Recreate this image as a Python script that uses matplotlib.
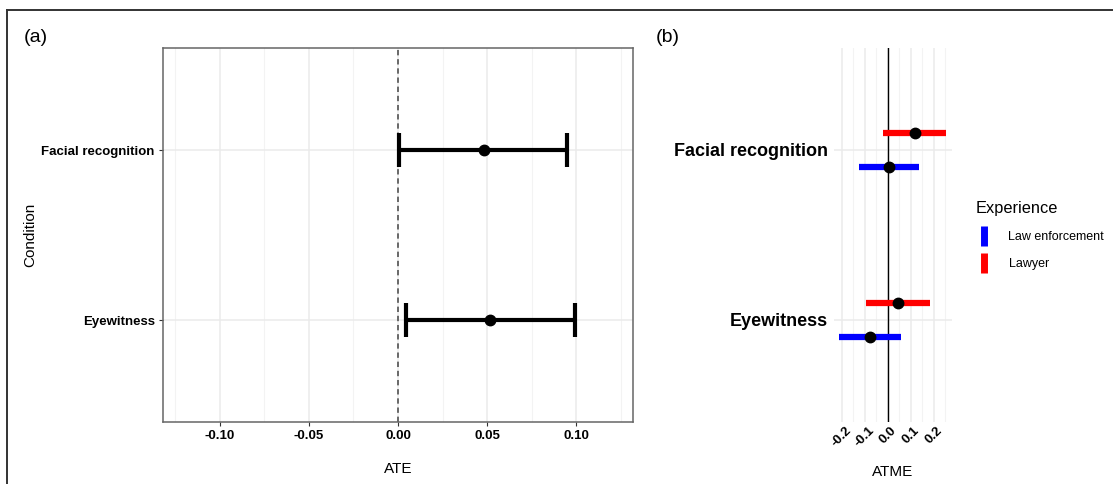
import matplotlib
matplotlib.use("Agg")
import matplotlib.pyplot as plt
from matplotlib.lines import Line2D

plt.rcParams["font.family"] = ["Liberation Sans", "DejaVu Sans"]

# (a) average treatment effect by condition
conditions = ["Eyewitness", "Facial recognition"]
ate = [0.0517, 0.0484]
ate_low = [0.0045, 0.0007]
ate_high = [0.0994, 0.0952]

# (b) average treatment effect by experience group
groups = ["Law enforcement", "Lawyer"]
group_colors = ["#0000FF", "#FF0000"]
atme = {
    "Law enforcement": [-0.077, 0.006],
    "Lawyer": [0.046, 0.119],
}
atme_low = {
    "Law enforcement": [-0.212, -0.123],
    "Lawyer": [-0.094, -0.019],
}
atme_high = {
    "Law enforcement": [0.058, 0.136],
    "Lawyer": [0.185, 0.253],
}
dodge = {"Law enforcement": -0.1, "Lawyer": 0.1}

W, H = 1113, 484
fig = plt.figure(figsize=(W / 100, H / 100), dpi=100)


def px_axes(x0, x1, y0, y1):
    return fig.add_axes([x0 / W, 1 - y1 / H, (x1 - x0) / W, (y1 - y0) / H])


grid_col = "#EBEBEB"

# ---- panel (a)
ax = px_axes(163, 633, 48, 422)
ypos = list(range(1, len(conditions) + 1))
xerr = [[m - lo for m, lo in zip(ate, ate_low)],
        [hi - m for m, hi in zip(ate, ate_high)]]
ax.errorbar(ate, ypos, xerr=xerr, fmt="o", color="black", ms=7.5,
            elinewidth=3, capsize=12.2, capthick=3, zorder=3)
ax.axvline(0, color="#444444", lw=1.1, ls=(0, (3.5, 2.5)), zorder=2)
ax.set_xlim(-0.132, 0.132)
ax.set_ylim(0.4, 2.6)
ax.set_xticks([-0.10, -0.05, 0.00, 0.05, 0.10])
ax.set_xticklabels(["-0.10", "-0.05", "0.00", "0.05", "0.10"])
ax.set_xticks([-0.125, -0.075, -0.025, 0.025, 0.075, 0.125], minor=True)
ax.set_yticks(ypos)
ax.set_yticklabels(conditions)
ax.grid(True, which="major", color=grid_col, lw=1.1, zorder=0)
ax.grid(True, which="minor", axis="x", color="#F3F3F3", lw=0.8, zorder=0)
ax.set_axisbelow(True)
for s in ax.spines.values():
    s.set_color("#666666")
    s.set_linewidth(1.1)
ax.tick_params(axis="both", which="major", length=3, width=0.8,
               color="#333333", labelsize=9.5, pad=3)
ax.tick_params(which="minor", length=0)
for lab in ax.get_xticklabels() + ax.get_yticklabels():
    lab.set_fontweight("bold")
ax.set_xlabel("ATE", fontsize=11, labelpad=14)
ax.set_ylabel("Condition", fontsize=11, va="center")
ax.yaxis.set_label_coords((30 - 163) / 470, 0.5)

# ---- panel (b)
bx = px_axes(833.6, 951.5, 48, 422)
for g, c in zip(groups, group_colors):
    yy = [p + dodge[g] for p in ypos]
    bx.hlines(yy, atme_low[g], atme_high[g], color=c, lw=4.5, zorder=3)
    bx.plot(atme[g], yy, "o", color="black", ms=7.5, zorder=4)
bx.axvline(0, color="black", lw=1.0, zorder=2)
bx.set_xlim(-0.235, 0.277)
bx.set_ylim(0.4, 2.6)
bx.set_xticks([-0.2, -0.1, 0.0, 0.1, 0.2])
bx.set_xticklabels(["-0.2", "-0.1", "0.0", "0.1", "0.2"], rotation=45,
                   ha="center", va="top")
bx.set_xticks([-0.15, -0.05, 0.05, 0.15, 0.25], minor=True)
bx.set_yticks(ypos)
bx.set_yticklabels(conditions)
bx.grid(True, which="major", color=grid_col, lw=1.1, zorder=0)
bx.grid(True, which="minor", axis="x", color="#F3F3F3", lw=0.8, zorder=0)
bx.set_axisbelow(True)
for s in bx.spines.values():
    s.set_visible(False)
bx.tick_params(axis="both", which="both", length=0)
bx.tick_params(axis="x", labelsize=9.5, pad=2)
bx.tick_params(axis="y", labelsize=13, pad=4)
for lab in bx.get_xticklabels() + bx.get_yticklabels():
    lab.set_fontweight("bold")
bx.set_xlabel("ATME", fontsize=11, labelpad=11)

handles = [Line2D([], [], marker="|", ls="none", color=c, ms=15, mew=5)
           for c in group_colors]
leg = fig.legend(handles, groups, title="Experience", loc="upper left",
                 bbox_to_anchor=(971 / W, 1 - 196 / H), frameon=False,
                 fontsize=9, title_fontsize=11.8, handlelength=1.2,
                 handletextpad=1.4, labelspacing=1.2, borderaxespad=0)
leg._legend_box.align = "left"

# panel letters
fig.text(24 / W, 1 - 38 / H, "(a)", fontsize=14, va="center")
fig.text(656 / W, 1 - 38 / H, "(b)", fontsize=14, va="center")

# outer frame (top and left edges)
fig.add_artist(Line2D([7 / W, 1], [1 - 10 / H, 1 - 10 / H], color="#333333", lw=1.4))
fig.add_artist(Line2D([7 / W, 7 / W], [0, 1 - 10 / H], color="#333333", lw=1.4))

fig.savefig("out.png", dpi=100)
